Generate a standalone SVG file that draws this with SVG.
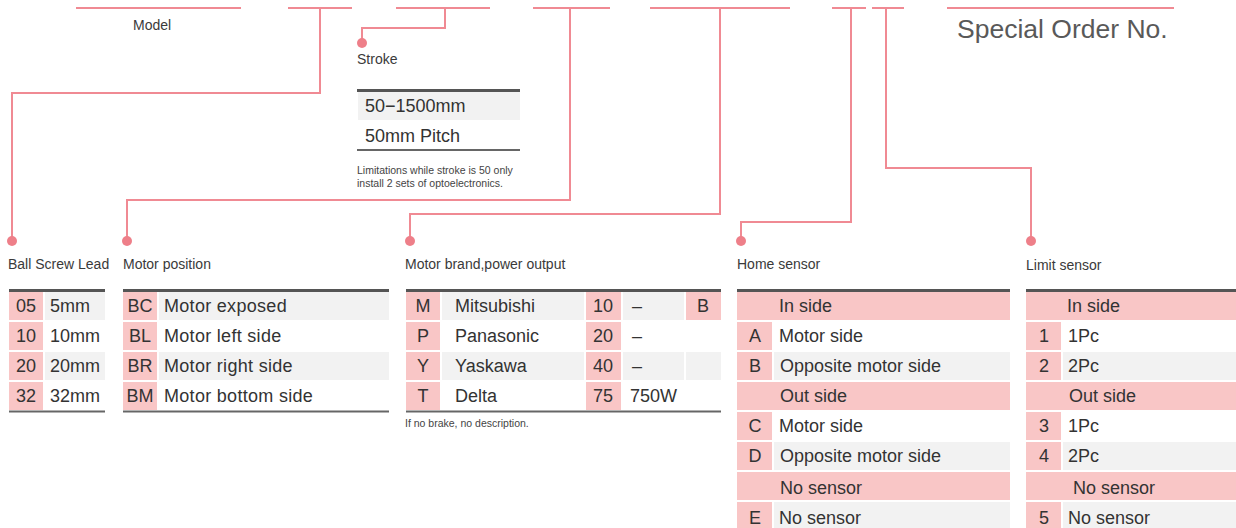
<svg xmlns="http://www.w3.org/2000/svg" width="1236" height="528" viewBox="0 0 1236 528">
<defs>
<style>
text{font-family:"Liberation Sans",Arial,sans-serif;fill:#333}
.lbl{font-size:14px;fill:#3a3a3a}
.cell{font-size:18px}
.mid{text-anchor:middle}
.note{font-size:10.5px;fill:#444}
.conn{fill:none;stroke:#f08a93;stroke-width:2}
.dot{fill:#ee7f89}
.pk{fill:#f9c6c6}
.gr{fill:#f2f2f2}
.top{stroke:#555;stroke-width:3}
.bot{stroke:#666;stroke-width:2}
</style>
</defs>
<rect width="1236" height="528" fill="#fff"/>

<g id="connectors">
<path class="conn" d="M76 8H241M288 8H352M396 8H490M533 8H610M650 8H790M832 8H866M872 8H904M947 8H1174"/>
<path class="conn" d="M320 8V93H12V241"/>
<path class="conn" d="M445 8V28H362V43"/>
<path class="conn" d="M570 8V200H127V241"/>
<path class="conn" d="M720 8V214H410V241"/>
<path class="conn" d="M851 8V222H741V241"/>
<path class="conn" d="M886 8V168H1031V241"/>
<circle class="dot" cx="12" cy="241" r="5"/>
<circle class="dot" cx="362" cy="43" r="5"/>
<circle class="dot" cx="127" cy="241" r="5"/>
<circle class="dot" cx="410" cy="241" r="5"/>
<circle class="dot" cx="741" cy="241" r="5"/>
<circle class="dot" cx="1031" cy="241" r="5"/>
</g>

<g id="model">
<text class="lbl" x="133" y="30">Model</text>
</g>

<g id="special-order">
<text x="957" y="38" style="font-size:26.5px;fill:#595959">Special Order No.</text>
</g>

<g id="stroke">
<text class="lbl" x="357" y="64">Stroke</text>
<line class="top" x1="357" y1="90.5" x2="520" y2="90.5"/>
<rect class="gr" x="358" y="92" width="162" height="28"/>
<text class="cell" x="365" y="112">50−1500mm</text>
<text class="cell" x="365" y="142">50mm Pitch</text>
<line class="bot" x1="357" y1="150" x2="520" y2="150"/>
<text class="note" x="357" y="174">Limitations while stroke is 50 only</text>
<text class="note" x="357" y="187">install 2 sets of optoelectronics.</text>
</g>

<g id="ball-screw-lead">
<text class="lbl" x="8" y="269">Ball Screw Lead</text>
<line class="top" x1="9" y1="290.5" x2="105" y2="290.5"/>
<rect class="pk" x="9" y="292" width="34" height="28"/>
<rect class="pk" x="9" y="322" width="34" height="28"/>
<rect class="pk" x="9" y="352" width="34" height="28"/>
<rect class="pk" x="9" y="382" width="34" height="28"/>
<rect class="gr" x="45" y="292" width="60" height="28"/>
<rect class="gr" x="45" y="352" width="60" height="28"/>
<text class="cell mid" x="26" y="312">05</text>
<text class="cell mid" x="26" y="342">10</text>
<text class="cell mid" x="26" y="372">20</text>
<text class="cell mid" x="26" y="402">32</text>
<text class="cell" x="50" y="312">5mm</text>
<text class="cell" x="50" y="342">10mm</text>
<text class="cell" x="50" y="372">20mm</text>
<text class="cell" x="50" y="402">32mm</text>
<line class="bot" x1="9" y1="411.5" x2="105" y2="411.5"/>
</g>

<g id="motor-position">
<text class="lbl" x="123" y="269">Motor position</text>
<line class="top" x1="123" y1="290.5" x2="389" y2="290.5"/>
<rect class="pk" x="123" y="292" width="34" height="28"/>
<rect class="pk" x="123" y="322" width="34" height="28"/>
<rect class="pk" x="123" y="352" width="34" height="28"/>
<rect class="pk" x="123" y="382" width="34" height="28"/>
<rect class="gr" x="159" y="292" width="230" height="28"/>
<rect class="gr" x="159" y="352" width="230" height="28"/>
<text class="cell mid" x="140" y="312">BC</text>
<text class="cell mid" x="140" y="342">BL</text>
<text class="cell mid" x="140" y="372">BR</text>
<text class="cell mid" x="140" y="402">BM</text>
<text class="cell" x="164" y="312" style="letter-spacing:0.3px">Motor exposed</text>
<text class="cell" x="164" y="342" style="letter-spacing:0.3px">Motor left side</text>
<text class="cell" x="164" y="372" style="letter-spacing:0.3px">Motor right side</text>
<text class="cell" x="164" y="402" style="letter-spacing:0.3px">Motor bottom side</text>
<line class="bot" x1="123" y1="411.5" x2="389" y2="411.5"/>
</g>

<g id="motor-brand">
<text class="lbl" x="405" y="269">Motor brand,power output</text>
<line class="top" x1="406" y1="290.5" x2="721" y2="290.5"/>
<rect class="pk" x="406" y="292" width="34" height="28"/>
<rect class="pk" x="406" y="322" width="34" height="28"/>
<rect class="pk" x="406" y="352" width="34" height="28"/>
<rect class="pk" x="406" y="382" width="34" height="28"/>
<rect class="gr" x="442" y="292" width="142" height="28"/>
<rect class="gr" x="442" y="352" width="142" height="28"/>
<rect class="pk" x="586" y="292" width="35" height="28"/>
<rect class="pk" x="586" y="322" width="35" height="28"/>
<rect class="pk" x="586" y="352" width="35" height="28"/>
<rect class="pk" x="586" y="382" width="35" height="28"/>
<rect class="gr" x="623" y="292" width="61" height="28"/>
<rect class="gr" x="623" y="352" width="61" height="28"/>
<rect class="pk" x="686" y="292" width="35" height="28"/>
<rect class="gr" x="686" y="352" width="35" height="28"/>
<text class="cell mid" x="423" y="312">M</text>
<text class="cell mid" x="423" y="342">P</text>
<text class="cell mid" x="423" y="372">Y</text>
<text class="cell mid" x="423" y="402">T</text>
<text class="cell" x="455" y="312">Mitsubishi</text>
<text class="cell" x="455" y="342">Panasonic</text>
<text class="cell" x="455" y="372">Yaskawa</text>
<text class="cell" x="455" y="402">Delta</text>
<text class="cell mid" x="603" y="312">10</text>
<text class="cell mid" x="603" y="342">20</text>
<text class="cell mid" x="603" y="372">40</text>
<text class="cell mid" x="603" y="402">75</text>
<text class="cell" x="632" y="312">–</text>
<text class="cell" x="632" y="342">–</text>
<text class="cell" x="632" y="372">–</text>
<text class="cell" x="630" y="402">750W</text>
<text class="cell mid" x="703" y="312">B</text>
<line class="bot" x1="406" y1="411.5" x2="721" y2="411.5"/>
<text class="note" x="405" y="427">If no brake, no description.</text>
</g>

<g id="home-sensor">
<text class="lbl" x="737" y="269">Home sensor</text>
<line class="top" x1="737" y1="290.5" x2="1010" y2="290.5"/>
<rect class="pk" x="737" y="292" width="273" height="28"/>
<rect class="pk" x="737" y="322" width="35" height="28"/>
<rect class="pk" x="737" y="352" width="35" height="28"/>
<rect class="gr" x="774" y="352" width="236" height="28"/>
<rect class="pk" x="737" y="382" width="273" height="28"/>
<rect class="pk" x="737" y="412" width="35" height="28"/>
<rect class="pk" x="737" y="442" width="35" height="28"/>
<rect class="gr" x="774" y="442" width="236" height="28"/>
<rect class="pk" x="737" y="472" width="273" height="28"/>
<rect class="pk" x="737" y="502" width="35" height="28"/>
<rect class="gr" x="774" y="502" width="236" height="28"/>
<text class="cell" x="779" y="312">In side</text>
<text class="cell mid" x="755" y="342">A</text>
<text class="cell" x="779" y="342">Motor side</text>
<text class="cell mid" x="755" y="372">B</text>
<text class="cell" x="780" y="372">Opposite motor side</text>
<text class="cell" x="780" y="402">Out side</text>
<text class="cell mid" x="755" y="432">C</text>
<text class="cell" x="779" y="432">Motor side</text>
<text class="cell mid" x="755" y="462">D</text>
<text class="cell" x="780" y="462">Opposite motor side</text>
<text class="cell" x="780" y="494">No sensor</text>
<text class="cell mid" x="755" y="524">E</text>
<text class="cell" x="779" y="524">No sensor</text>
</g>

<g id="limit-sensor">
<text class="lbl" x="1026" y="270">Limit sensor</text>
<line class="top" x1="1026" y1="290.5" x2="1236" y2="290.5"/>
<rect class="pk" x="1026" y="292" width="210" height="28"/>
<rect class="pk" x="1026" y="322" width="35" height="28"/>
<rect class="pk" x="1026" y="352" width="35" height="28"/>
<rect class="gr" x="1063" y="352" width="173" height="28"/>
<rect class="pk" x="1026" y="382" width="210" height="28"/>
<rect class="pk" x="1026" y="412" width="35" height="28"/>
<rect class="pk" x="1026" y="442" width="35" height="28"/>
<rect class="gr" x="1063" y="442" width="173" height="28"/>
<rect class="pk" x="1026" y="472" width="210" height="28"/>
<rect class="pk" x="1026" y="502" width="35" height="28"/>
<rect class="gr" x="1063" y="502" width="173" height="28"/>
<text class="cell" x="1067" y="312">In side</text>
<text class="cell mid" x="1044" y="342">1</text>
<text class="cell" x="1068" y="342">1Pc</text>
<text class="cell mid" x="1044" y="372">2</text>
<text class="cell" x="1068" y="372">2Pc</text>
<text class="cell" x="1069" y="402">Out side</text>
<text class="cell mid" x="1044" y="432">3</text>
<text class="cell" x="1068" y="432">1Pc</text>
<text class="cell mid" x="1044" y="462">4</text>
<text class="cell" x="1068" y="462">2Pc</text>
<text class="cell" x="1073" y="494">No sensor</text>
<text class="cell mid" x="1044" y="524">5</text>
<text class="cell" x="1068" y="524">No sensor</text>
</g>
</svg>
